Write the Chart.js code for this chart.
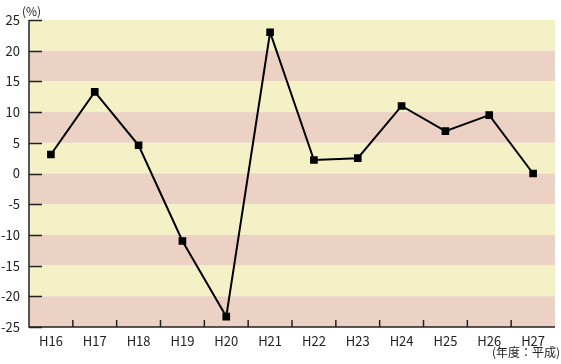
<!DOCTYPE html>
<html>
<head>
<meta charset="utf-8">
<script src="https://cdn.jsdelivr.net/npm/chart.js@4"></script>
<style>
  body { margin: 0; background: #fff; }
  #wrap { width: 561px; height: 364px; position: relative; }
</style>
</head>
<body>
<div id="wrap"><canvas id="chart"></canvas></div>
<script>
const years = ["H16", "H17", "H18", "H19", "H20", "H21", "H22", "H23", "H24", "H25", "H26", "H27"];
const rates = [3.1, 13.3, 4.6, -11.0, -23.3, 23.0, 2.2, 2.5, 11.0, 6.9, 9.5, 0.0];
const yTicks = [25, 20, 15, 10, 5, 0, -5, -10, -15, -20, -25];

const FONT = "'Noto Sans CJK JP', 'Noto Sans', sans-serif";

// striped background + inside tick marks + unit notes
const decor = {
  id: "decor",
  beforeDatasetsDraw(c) {
    const ctx = c.ctx, y = c.scales.y, x = c.scales.x, a = c.chartArea;
    ctx.save();
    for (let i = 0; i < yTicks.length - 1; i++) {
      const top = y.getPixelForValue(yTicks[i]);
      const bot = y.getPixelForValue(yTicks[i + 1]);
      ctx.fillStyle = i % 2 === 0 ? "#f5f1c6" : "#ecd2c4";
      ctx.fillRect(a.left, top, a.right - a.left, bot - top);
    }
    ctx.strokeStyle = "#222";
    ctx.lineWidth = 1.5;
    ctx.beginPath();
    yTicks.forEach(v => {
      const py = Math.round(y.getPixelForValue(v)) + 0.5;
      ctx.moveTo(a.left, py);
      ctx.lineTo(a.left + 13, py);
    });
    for (let i = 1; i < years.length; i++) {
      const px = (x.getPixelForValue(i - 1) + x.getPixelForValue(i)) / 2;
      ctx.moveTo(px, a.bottom);
      ctx.lineTo(px, a.bottom - 7);
    }
    ctx.stroke();
    ctx.beginPath();
    ctx.moveTo(a.left, a.top);
    ctx.lineTo(a.left, a.bottom);
    ctx.lineTo(a.right, a.bottom);
    ctx.stroke();
    ctx.fillStyle = "#222";
    ctx.font = "12px " + FONT;
    ctx.textBaseline = "middle";
    ctx.textAlign = "left";
    ctx.fillText("(%)", 22, 11);
    ctx.textAlign = "right";
    ctx.fillText("(年度：平成)", 560, 352);
    ctx.restore();
  }
};

new Chart(document.getElementById("chart"), {
  type: "line",
  data: {
    labels: years,
    datasets: [{
      data: rates,
      borderColor: "#000",
      borderWidth: 2,
      pointStyle: "rect",
      pointRadius: 4,
      pointBackgroundColor: "#000",
      pointBorderColor: "#000",
      tension: 0
    }]
  },
  options: {
    responsive: true,
    maintainAspectRatio: false,
    animation: false,
    layout: { padding: { top: 20, right: 1, left: 0, bottom: 0 } },
    plugins: { legend: { display: false }, tooltip: { enabled: false } },
    scales: {
      x: {
        offset: true,
        grid: { display: false, drawTicks: false },
        border: { display: false },
        ticks: { color: "#222", font: { family: FONT, size: 13 }, padding: 6, maxRotation: 0 },
        afterFit(s) { s.height = 37; }
      },
      y: {
        min: -25,
        max: 25,
        grid: { display: false, drawTicks: false },
        border: { display: false },
        ticks: { stepSize: 5, color: "#222", font: { family: FONT, size: 13 }, padding: 9 },
        afterFit(s) { s.width = 29; }
      }
    }
  },
  plugins: [decor]
});
</script>
</body>
</html>
